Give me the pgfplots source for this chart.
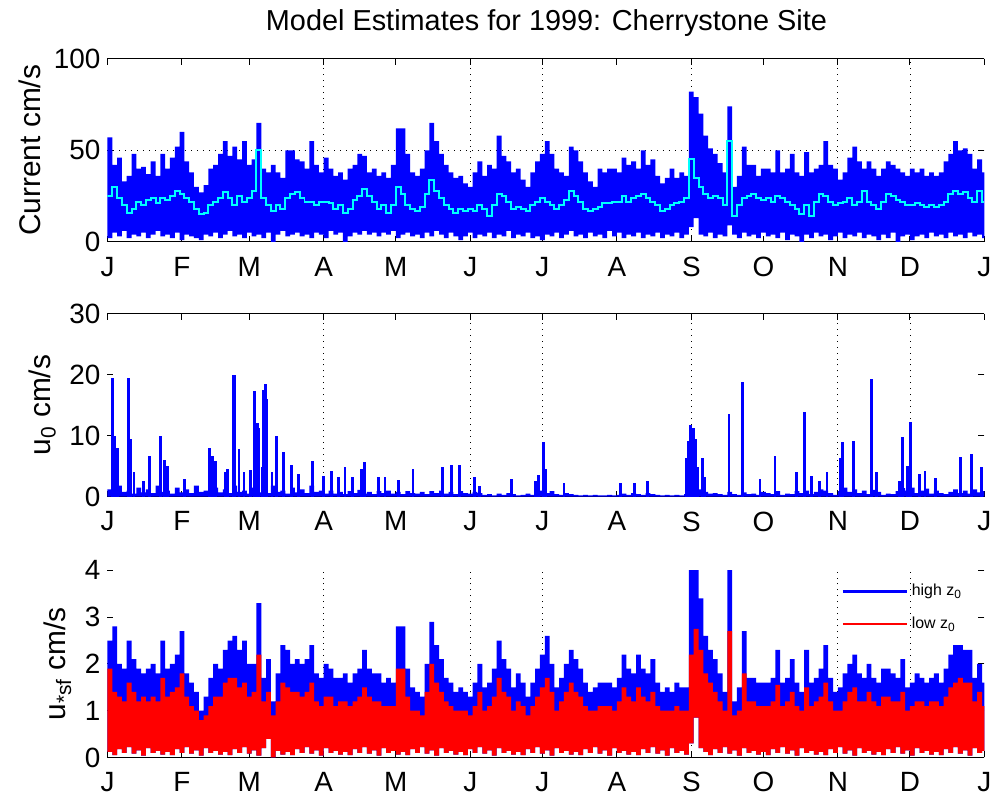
\documentclass[border=0pt]{standalone}
\usepackage{pgfplots}
\pgfplotsset{compat=1.18}
\usepackage{pgfplotstable}
\usepgfplotslibrary{fillbetween}
\usepackage{fontspec}
\setmainfont{Liberation Sans}
\definecolor{mblue}{RGB}{0,0,255}
\definecolor{mcyan}{RGB}{0,255,255}
\definecolor{mred}{RGB}{255,0,0}

% d = day of 1999, up1/lo1 = current envelope, cy = mean current,
% up3/rd3 = u*sf high/low z0, lo3 = lower envelope, u0b = u0 background
\pgfplotstableread{
d up1 lo1 cy up3 rd3 lo3 u0b
0 57 2 25 2.5 1.9 0.12 1.2
2 42 5 30 2.8 1.4 0.05 0.6
4 46 3 24 2.0 1.3 0.18 1.8
6 33 6 20 1.9 1.2 0.10 0.8
8 36 2 16 2.5 1.6 0.22 1.0
10 48 4 18 2.1 1.4 0.08 0.5
12 40 3 22 1.9 1.2 0.15 1.5
14 41 5 20 1.8 1.3 0.04 0.7
16 37 2 23 1.9 1.2 0.20 1.2
18 44 4 24 2.0 1.3 0.10 0.6
20 36 6 21 1.8 1.2 0.14 1.8
22 48 3 24 2.5 1.7 0.06 0.8
24 40 4 23 1.9 1.3 0.12 1.0
26 46 2 25 2.0 1.4 0.05 0.5
28 52 5 28 2.2 1.5 0.18 1.5
30 60 1 26 2.7 1.8 0.10 0.7
32 44 4 24 1.8 1.3 0.22 1.2
34 38 3 22 1.6 1.1 0.08 0.6
36 30 2 18 1.4 1.0 0.15 1.8
38 27 1 15 1.0 0.8 0.04 0.8
40 31 4 16 1.3 0.9 0.20 1.0
42 40 3 20 1.7 1.1 0.10 0.5
44 42 5 22 2.0 1.3 0.14 1.5
46 48 2 24 1.9 1.3 0.06 0.7
48 55 4 27 2.3 1.6 0.12 1.2
50 47 6 24 2.5 1.7 0.05 0.6
52 52 3 20 2.6 1.7 0.18 1.8
54 45 4 25 2.3 1.5 0.10 0.8
56 55 2 22 2.5 1.6 0.22 1.0
58 42 5 24 2.0 1.3 0.08 0.5
60 45 3 28 2.0 1.4 0.15 1.5
62 65 4 50 3.3 2.2 0.04 0.7
64 40 2 24 1.7 1.2 0.20 1.2
66 38 5 20 2.1 1.4 0.40 0.6
68 42 0 17 1.2 0.9 0.00 1.8
70 38 4 20 1.8 1.2 0.14 0.8
72 35 6 18 2.4 1.6 0.06 1.0
74 50 3 24 2.3 1.5 0.12 0.5
76 50 4 26 2.0 1.4 0.05 1.5
78 45 5 27 2.1 1.4 0.18 0.7
80 44 3 24 2.0 1.3 0.10 1.2
82 40 4 22 2.1 1.4 0.22 0.6
84 55 2 22 2.4 1.6 0.08 1.8
86 42 5 20 1.8 1.2 0.15 0.8
88 38 4 22 1.7 1.1 0.04 1.0
90 46 2 22 2.0 1.3 0.20 0.5
92 40 6 21 1.9 1.3 0.10 1.0
94 36 4 18 1.7 1.1 0.14 0.5
96 38 5 20 1.7 1.2 0.06 0.8
98 34 0 16 1.8 1.2 0.12 0.4
100 40 3 18 1.6 1.1 0.05 0.9
102 42 5 23 1.8 1.2 0.18 0.6
104 48 4 25 1.9 1.3 0.10 1.1
106 47 6 29 2.3 1.5 0.22 0.5
108 38 4 25 1.9 1.3 0.08 0.8
110 40 5 22 1.8 1.2 0.15 0.4
112 36 3 18 1.8 1.2 0.04 0.9
114 38 5 20 1.6 1.1 0.20 0.6
116 35 4 16 1.7 1.1 0.10 1.0
118 42 6 20 1.6 1.1 0.14 0.5
120 62 2 30 2.8 1.9 0.06 0.8
122 62 4 26 2.8 1.9 0.12 0.4
124 48 5 20 1.9 1.3 0.05 0.9
126 38 3 18 1.5 1.0 0.18 0.6
128 36 4 17 1.4 1.0 0.10 0.5
130 40 2 19 1.3 0.9 0.22 0.8
132 50 5 26 2.0 1.4 0.08 0.4
134 65 3 34 2.9 2.0 0.15 0.9
136 55 6 28 2.4 1.6 0.04 0.6
138 48 4 24 2.1 1.4 0.20 1.0
140 42 2 20 1.7 1.2 0.10 0.5
142 38 5 18 1.6 1.1 0.14 0.8
144 35 3 16 1.4 1.0 0.06 0.4
146 36 1 18 1.5 1.0 0.12 0.9
148 32 3 17 1.4 1.0 0.05 0.6
150 30 5 18 1.3 0.9 0.18 0.5
152 38 2 17 1.6 1.1 0.10 0.8
154 44 4 20 2.0 1.4 0.22 0.6
156 36 3 18 1.5 1.0 0.08 0.3
158 42 5 14 1.6 1.1 0.15 0.4
160 40 2 20 1.9 1.3 0.04 0.2
162 58 4 26 2.5 1.7 0.20 0.5
164 47 3 25 2.1 1.4 0.10 0.3
166 44 6 22 1.9 1.3 0.14 0.6
168 38 2 18 1.5 1.0 0.06 0.4
170 40 4 19 1.8 1.2 0.12 0.2
172 34 3 18 1.6 1.1 0.05 0.3
174 30 5 17 1.3 0.9 0.18 0.5
176 38 2 20 1.6 1.1 0.10 0.3
178 44 3 22 1.9 1.3 0.22 0.8
180 48 1 24 2.2 1.5 0.08 1.0
182 55 4 22 2.6 1.7 0.15 0.6
184 48 3 20 2.0 1.4 0.04 0.9
186 40 5 18 1.5 1.0 0.20 0.4
188 38 2 20 1.7 1.2 0.10 0.3
190 36 4 23 2.0 1.4 0.14 0.6
192 52 6 28 2.3 1.6 0.06 0.4
194 50 3 25 2.1 1.4 0.12 0.3
196 44 4 22 1.9 1.3 0.05 0.2
198 38 2 18 1.6 1.1 0.18 0.3
200 33 5 17 1.4 1.0 0.10 0.2
202 30 3 18 1.5 1.0 0.22 0.3
204 40 4 19 1.6 1.1 0.08 0.2
206 38 2 21 1.6 1.1 0.15 0.2
208 40 6 21 1.6 1.1 0.04 0.3
210 40 3 22 1.5 1.0 0.20 0.2
212 38 5 22 1.7 1.2 0.10 0.3
214 46 2 25 2.2 1.5 0.14 0.5
216 42 4 22 1.9 1.3 0.06 0.3
218 44 3 24 1.8 1.2 0.12 0.6
220 40 5 25 2.2 1.5 0.05 0.4
222 50 2 26 1.9 1.3 0.18 0.3
224 42 4 24 1.8 1.2 0.10 0.6
226 45 3 22 2.1 1.4 0.22 0.4
228 36 5 20 1.6 1.1 0.08 0.3
230 32 2 17 1.4 1.0 0.15 0.2
232 35 4 18 1.5 1.0 0.04 0.3
234 40 3 20 1.4 1.0 0.20 0.2
236 35 5 21 1.6 1.1 0.10 0.3
238 38 2 22 1.5 1.0 0.14 0.2
240 36 4 24 1.5 1.0 0.06 0.4
242 82 8 45 4.1 2.2 0.30 1.0
244 79 13 35 4.1 2.75 0.85 2.0
246 70 4 30 3.4 2.3 0.20 1.2
248 58 3 26 2.6 1.8 0.12 0.8
250 51 5 24 2.3 1.6 0.05 0.5
252 48 2 25 2.1 1.4 0.18 0.6
254 43 4 24 1.8 1.2 0.10 0.4
256 38 3 20 1.4 1.0 0.22 0.3
258 74 9 55 4.1 2.7 0.08 0.8
260 30 4 14 1.2 0.9 0.15 0.4
262 36 2 20 1.5 1.0 0.04 0.3
264 52 5 24 2.7 1.8 0.20 0.7
266 42 3 25 1.7 1.2 0.10 0.4
268 42 4 26 1.7 1.2 0.14 0.5
270 36 2 24 1.6 1.1 0.06 0.3
272 40 5 23 1.6 1.1 0.12 0.8
274 40 3 24 1.6 1.1 0.05 0.6
276 38 4 22 1.7 1.2 0.18 0.4
278 50 2 25 2.3 1.55 0.10 0.9
280 38 5 24 1.6 1.1 0.22 0.3
282 40 1 22 1.7 1.2 0.08 0.5
284 48 4 20 2.1 1.4 0.15 0.4
286 38 3 18 1.6 1.1 0.04 0.9
288 36 0 15 1.4 1.0 0.20 0.6
290 49 4 20 2.3 1.5 0.10 1.0
292 38 2 14 1.6 1.1 0.14 0.4
294 40 5 22 1.7 1.2 0.06 0.8
296 42 3 26 1.9 1.3 0.12 1.2
298 55 4 25 2.4 1.6 0.05 1.0
300 42 1 22 1.7 1.2 0.18 0.6
302 40 3 20 1.4 1.0 0.10 0.3
304 34 5 21 1.5 1.0 0.22 0.9
306 38 2 22 1.8 1.2 0.08 1.5
308 46 4 24 2.0 1.4 0.15 0.8
310 52 3 20 2.2 1.5 0.04 1.2
312 44 5 22 1.8 1.2 0.20 0.6
314 40 2 28 1.7 1.2 0.10 1.0
316 44 4 22 2.0 1.4 0.14 0.4
318 40 3 20 1.7 1.2 0.06 1.1
320 36 1 18 1.6 1.1 0.12 0.8
322 40 4 22 1.9 1.3 0.05 0.3
324 44 2 26 1.9 1.3 0.18 0.5
326 42 5 25 1.8 1.2 0.10 0.4
328 40 0 23 1.7 1.2 0.22 0.9
330 38 3 22 2.1 1.4 0.08 1.4
332 36 4 20 1.5 1.0 0.15 1.0
334 40 1 20 1.6 1.1 0.04 1.5
336 38 3 21 1.8 1.2 0.20 0.6
338 40 4 20 1.7 1.2 0.10 1.0
340 36 2 19 1.6 1.1 0.14 1.3
342 38 5 20 1.7 1.2 0.06 0.5
344 36 3 19 1.8 1.2 0.12 1.0
346 38 4 20 1.6 1.1 0.05 0.6
348 44 2 22 1.9 1.3 0.18 0.4
350 48 5 26 2.2 1.5 0.10 0.8
352 55 3 28 2.4 1.6 0.22 1.2
354 50 4 26 2.4 1.7 0.08 0.6
356 51 2 27 2.3 1.6 0.15 1.0
358 48 5 24 2.3 1.6 0.04 0.5
360 40 3 22 1.7 1.2 0.20 1.2
362 45 4 28 2.0 1.4 0.10 0.7
364 38 2 22 1.6 1.1 0.14 0.9
365 38 2 22 1.6 1.1 0.14 0.9
}\series

% u0 spikes
\pgfplotstableread{
d u0
2 19.5
3 10
4.3 8
8.5 10
8.9 19.5
9.6 9.4
11 4
15 2.6
17.4 6.7
22.2 10
23.6 6
25 5
32 2.9
42.5 8
43.6 6.7
44.8 5.8
49 4
50 4.5
52.2 19.9
52.8 19.9
54.7 7.8
56.8 4
59.5 4.3
61 8.9
61.3 17.3
62.3 12
63 11.3
64.4 4.8
65 17.5
65.7 18.4
66.4 16
68.5 4
70.2 10
73.3 7.3
76.5 5.2
79.6 3.7
85.4 5.9
90 3.4
93.4 4.2
96 3.3
98.9 4.8
102 3.2
105.8 4.5
107 5.6
112.7 3.3
115.5 3.3
121 2.7
127.2 4.5
139.6 4.8
143.1 5.2
146.5 5.2
152.8 3.3
155 1.8
168 2.9
178.3 2.6
179.3 3.5
181.5 8.9
182.3 4.5
190 2.3
213.5 2.3
219.5 2.3
224.9 2.6
241.1 6.4
241.8 9.1
242.8 11.7
244 11.3
244.7 9.4
245.5 4.8
247.8 6.4
248.6 3.2
258.7 13.5
264.2 18.8
271.6 2.9
277.8 6.7
286.7 4.1
290.1 13.9
293 3.4
296.4 2.6
299.5 4.1
305 6.4
305.8 8.9
310.5 9.2
318.1 19.3
320 4
329.8 2.6
330.9 9.7
333.1 5
334.1 12.2
337.9 3.7
340.3 4.2
344.5 3
355.1 6.5
359.5 7
363.8 4.8
}\spikes

\pgfplotsset{
  monthaxis/.style={
    scale only axis, width=440.5pt, height=92pt,
    xmin=0, xmax=365,
    xtick={0,31,59,90,120,151,181,212,243,273,304,334,365},
    xticklabels={J,F,M,A,M,J,J,A,S,O,N,D,J},
    tick align=inside, major tick length=3pt,
    tick style={black, line width=0.5pt},
    separate axis lines,
    y axis line style={draw=none},
    x axis line style={black, line width=0.6pt},
    % only some of the dotted grid lines show in the original
    extra x ticks={90,151,181,243,304,334},
    extra x tick labels={},
    extra x tick style={grid=major},
    major grid style={black, line width=0.4pt, dash pattern=on 0.4pt off 2.6pt},
    ticklabel style={font=\fontsize{14}{16}\selectfont},
    xticklabel style={yshift=-4pt},
    label style={font=\fontsize{15}{17}\selectfont},
    /pgf/number format/assume math mode=true,
  },
}

\begin{document}
\begin{tikzpicture}

\node[font=\fontsize{14.5}{17}\selectfont] at (274.5pt,391pt) {Model Estimates for 1999: Cherrystone Site};

% Panel 1: current
\begin{axis}[monthaxis, at={(54pt,281pt)}, anchor=south west,
  ymin=0, ymax=100, ytick={0,50,100}, ylabel={Current cm/s},
  extra y ticks={50}, extra y tick labels={}, extra y tick style={grid=major}]
  \addplot[const plot, draw=none, name path=u1, forget plot] table[x=d,y=up1]{\series};
  \addplot[const plot, draw=none, name path=l1, forget plot] table[x=d,y=lo1]{\series};
  \addplot[mblue, forget plot] fill between[of=u1 and l1];
  \addplot[const plot, mcyan, line width=1pt, forget plot] table[x=d,y=cy]{\series};
\end{axis}

% Panel 2: u0
\begin{axis}[monthaxis, at={(54pt,153pt)}, anchor=south west,
  ymin=0, ymax=30, ytick={0,10,20,30}, ylabel={u\textsubscript{0} cm/s}]
  \addplot[const plot, fill=mblue, draw=none, forget plot] table[x=d,y=u0b]{\series} \closedcycle;
  \addplot[ycomb, no marks, mblue, line width=1.4pt, forget plot] table[x=d,y=u0]{\spikes};
\end{axis}

% Panel 3: u*sf
\begin{axis}[monthaxis, at={(54pt,22pt)}, anchor=south west, height=94pt,
  axis x line*=bottom,
  ymin=0, ymax=4, ytick={0,1,2,3,4}, ylabel={u\textsubscript{*sf} cm/s},
  legend style={at={(0.83,0.97)}, anchor=north west, draw=none, fill=none,
    font=\fontsize{8}{9}\selectfont, row sep=5pt},
  legend cell align=left,
  legend image code/.code={\draw[#1] (0pt,0pt) -- (32pt,0pt);}]
  \addlegendimage{mblue, line width=1.2pt}
  \addlegendentry{high z\textsubscript{0}}
  \addlegendimage{mred, line width=1.2pt}
  \addlegendentry{low z\textsubscript{0}}
  \addplot[const plot, draw=none, name path=u3, forget plot] table[x=d,y=up3]{\series};
  \addplot[const plot, draw=none, name path=r3, forget plot] table[x=d,y=rd3]{\series};
  \addplot[const plot, draw=none, name path=l3, forget plot] table[x=d,y=lo3]{\series};
  \addplot[mblue, forget plot] fill between[of=u3 and l3];
  \addplot[mred, forget plot] fill between[of=r3 and l3];
\end{axis}

\path (0,0) rectangle (499pt,402.5pt);
\end{tikzpicture}
\end{document}
